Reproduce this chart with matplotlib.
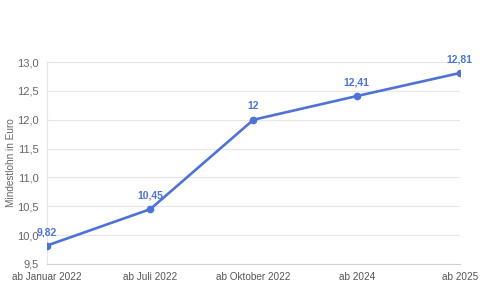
import matplotlib.pyplot as plt

categories = ["ab Januar 2022", "ab Juli 2022", "ab Oktober 2022", "ab 2024", "ab 2025"]
values = [9.82, 10.45, 12.0, 12.41, 12.81]
value_labels = ["9,82", "10,45", "12", "12,41", "12,81"]
y_ticks = [9.5, 10.0, 10.5, 11.0, 11.5, 12.0, 12.5, 13.0]

plt.rcParams['font.family'] = ['Liberation Sans', 'DejaVu Sans']

blue = "#4f72d6"
grid = "#e6e6e6"

fig = plt.figure(figsize=(4.8, 2.9), dpi=100)
ax = fig.add_axes([0.098, 0.0897, 0.86, 0.6963])

x = list(range(len(categories)))
ax.plot(x, values, color=blue, linewidth=1.9, marker="o", markersize=4.5, zorder=3)
for xi, v, lab in zip(x, values, value_labels):
    ax.annotate(lab, (xi, v), xytext=(0, 6), textcoords="offset points",
                ha="center", va="bottom", color=blue, fontsize=7.5, fontweight="bold")

ax.set_xlim(0, len(categories) - 1)
ax.set_ylim(9.5, 13.0)
ax.set_xticks(x)
ax.set_xticklabels(categories)
ax.set_yticks(y_ticks)
ax.set_yticklabels([f"{t:.1f}".replace(".", ",") for t in y_ticks])
ax.tick_params(axis="y", length=0, labelsize=8, colors="#666666", pad=6)
ax.tick_params(axis="x", length=0, labelsize=7.2, colors="#555555", pad=6)
ax.grid(axis="y", color=grid, linewidth=0.8)
for s in ["top", "right"]:
    ax.spines[s].set_visible(False)
ax.spines["left"].set_color(grid)
ax.spines["bottom"].set_color("#d0d0d0")
ax.set_ylabel("Mindestlohn in Euro", fontsize=7.2, color="#666666", labelpad=1)

fig.savefig("out.png", dpi=100)
